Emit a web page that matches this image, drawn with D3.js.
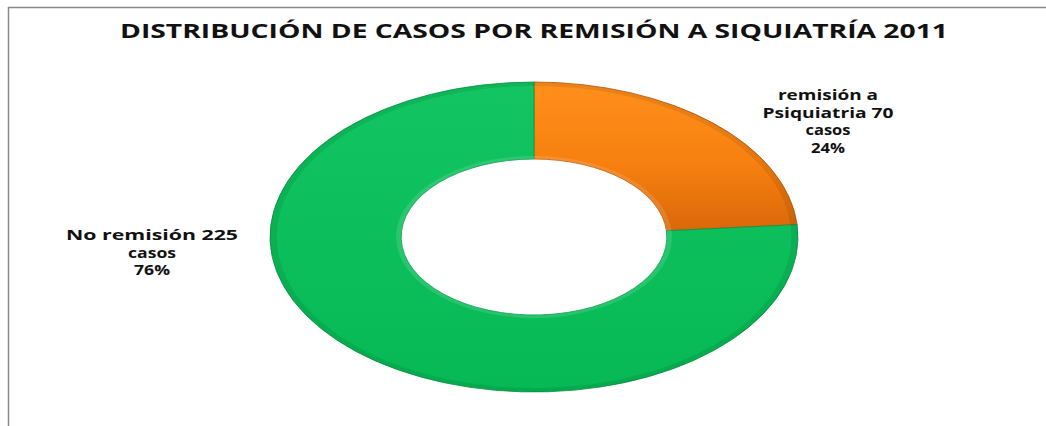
<!DOCTYPE html>
<html>
<head>
<meta charset="utf-8">
<script src="https://cdn.jsdelivr.net/npm/d3@7"></script>
<style>
  html, body { margin: 0; padding: 0; background: #fff; }
  svg { display: block; }
  text { font-family: "Open Sans", "DejaVu Sans", sans-serif; font-weight: bold; fill: #111; }
</style>
</head>
<body>
<svg id="chart" width="1046" height="426"></svg>
<script>
// ---- data ----
const title = "DISTRIBUCIÓN DE CASOS POR REMISIÓN A SIQUIATRÍA 2011";
const categories = ["remisión a Psiquiatria", "No remisión"];
const values = [70, 225];
const percents = ["24%", "76%"];
const labelLines = [
  ["remisión a", "Psiquiatria 70", "casos", "24%"],
  ["No remisión 225", "casos", "76%"]
];

// ---- layout ----
const W = 1046, H = 426;
const cx = 534, cy = 237;
const R = 155, r = 78;          // vertical radii
const sx = 264 / 155;           // horizontal stretch (ellipse)

const svg = d3.select("#chart");

// frame lines
svg.append("line").attr("x1", 8.5).attr("x2", 8.5).attr("y1", 7).attr("y2", H)
  .attr("stroke", "#8a8a8a").attr("stroke-width", 1.5);
svg.append("line").attr("x1", 8).attr("x2", W).attr("y1", 7.5).attr("y2", 7.5)
  .attr("stroke", "#8a8a8a").attr("stroke-width", 1.5);

// title
svg.append("text")
  .attr("x", cx).attr("y", 38)
  .attr("text-anchor", "middle")
  .attr("font-size", 19)
  .attr("textLength", 828).attr("lengthAdjust", "spacingAndGlyphs")
  .text(title);

// gradients
const defs = svg.append("defs");
const gO = defs.append("linearGradient").attr("id", "gOrange")
  .attr("x1", 0).attr("y1", 0).attr("x2", 0).attr("y2", 1);
gO.append("stop").attr("offset", "0%").attr("stop-color", "#ff8f1c");
gO.append("stop").attr("offset", "55%").attr("stop-color", "#f7800f");
gO.append("stop").attr("offset", "100%").attr("stop-color", "#d9680a");
const gG = defs.append("linearGradient").attr("id", "gGreen")
  .attr("x1", 0).attr("y1", 0).attr("x2", 0).attr("y2", 1);
gG.append("stop").attr("offset", "0%").attr("stop-color", "#12c562");
gG.append("stop").attr("offset", "100%").attr("stop-color", "#06b955");
const fills = ["url(#gOrange)", "url(#gGreen)"];
const strokes = ["#b8560a", "#079445"];

const pie = d3.pie().sort(null).value(d => d)(values);
const arc = d3.arc().innerRadius(r).outerRadius(R);

const g = svg.append("g").attr("transform", `translate(${cx},${cy}) scale(${sx},1)`);
g.selectAll("path.slice").data(pie).enter().append("path")
  .attr("class", "slice")
  .attr("d", arc)
  .attr("fill", (d, i) => fills[i])
  .attr("stroke", (d, i) => strokes[i])
  .attr("stroke-width", 0.8)
  .attr("vector-effect", "non-scaling-stroke");

// soft highlight rims
const rimArc = d3.arc().innerRadius(R - 4).outerRadius(R);
const rimArcIn = d3.arc().innerRadius(r).outerRadius(r + 3);
g.selectAll("path.rim").data(pie).enter().append("path")
  .attr("d", rimArc).attr("fill", "#000").attr("opacity", 0.08);
g.selectAll("path.rimIn").data(pie).enter().append("path")
  .attr("d", rimArcIn).attr("fill", "#fff").attr("opacity", 0.12);

// labels
const labelPos = [
  { x: 828, y: 100, w: [100, 131, 45, 34] },
  { x: 152, y: 240, w: [172, 48, 36] }
];
labelLines.forEach((lines, i) => {
  const t = svg.append("text")
    .attr("text-anchor", "middle")
    .attr("font-size", 14.5);
  lines.forEach((ln, j) => {
    t.append("tspan")
      .attr("x", labelPos[i].x)
      .attr("y", labelPos[i].y + j * 17.5)
      .attr("textLength", labelPos[i].w[j])
      .attr("lengthAdjust", "spacingAndGlyphs")
      .text(ln);
  });
});
</script>
</body>
</html>
